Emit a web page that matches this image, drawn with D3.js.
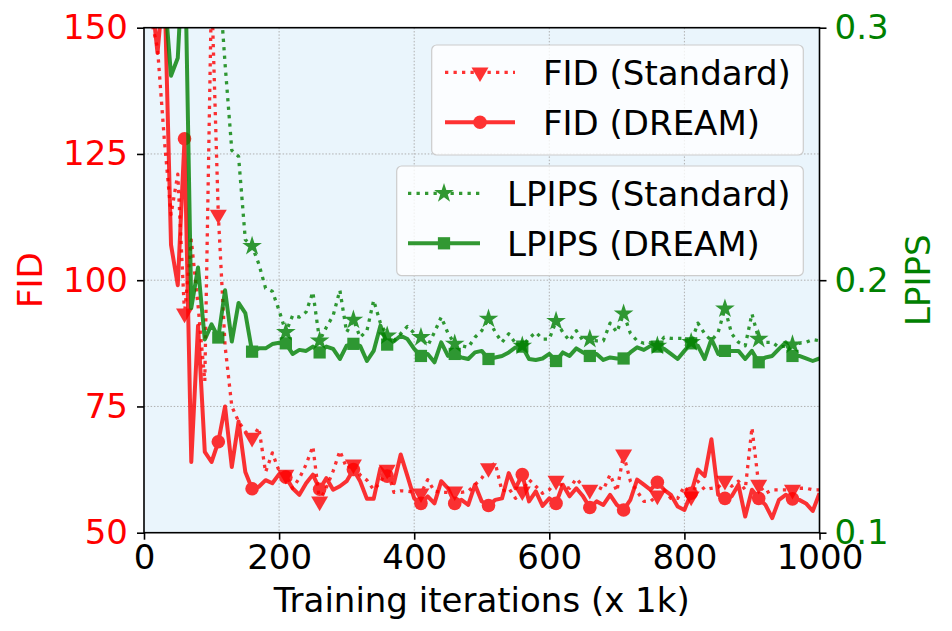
<!DOCTYPE html>
<html>
<head>
<meta charset="utf-8">
<script src="https://cdn.jsdelivr.net/npm/d3@7"></script>
<style>
	body { margin: 0; background: #fff; }
	svg { display: block; font-family: "DejaVu Sans", sans-serif; }
</style>
</head>
<body>
<div id="chart"></div>
<script>
// training iterations (x 1k), one point every 10k
const iterations = d3.range(10, 1001, 10);

// FID (DREAM) - solid red, circles
const fidDream = [
	158, 145, 160, 107, 99, 128, 64, 91, 66, 64,
	68, 75, 63, 72, 62, 58.7, 59.1, 60.4, 59.8, 61.6,
	61, 58.8, 57.5, 59.8, 61.5, 58.6, 60.8, 58.5, 59.2, 60.2,
	62.5, 60.2, 56.7, 56.7, 62.8, 61.2, 59.8, 65.5, 61.2, 56.8,
	55.8, 57.2, 55.8, 60.2, 58.8, 55.8, 56.5, 55.5, 59.5, 56.2,
	55.4, 56.5, 56.8, 61.8, 58.8, 61.5, 56.2, 58.2, 55.3, 56.8,
	55.8, 59.5, 57.2, 58.8, 57.2, 55, 56.2, 55.5, 57.5, 55.5,
	54.5, 56.5, 60.5, 59.5, 58.5, 60, 58.5, 57.5, 55.2, 54.5,
	57.8, 62.5, 61.2, 68.5, 57.5, 56.8, 57.2, 59.5, 53.2, 58.5,
	56.8, 55.5, 52.9, 56.5, 57.5, 56.7, 56.5, 55.8, 54.3, 57.8
];

// FID (Standard) - dotted red, down triangles
const fidStandard = [
	152, 146, 128, 113, 121, 93.4, 108, 95, 80, 158,
	113, 87, 75, 72, 70, 68.8, 70.8, 62, 65.8, 62.2,
	61.5, 58.8, 60.8, 63.5, 67.1, 56.2, 59, 62.2, 66.2, 62.8,
	63.5, 61.4, 60.4, 58.5, 60, 62.5, 58, 58.3, 58.2, 58,
	57.8, 60.5, 58.2, 58, 58, 58.2, 58, 58.2, 59.5, 60.8,
	62.8, 63.8, 58.2, 58.8, 56.8, 58.2, 60.5, 59.2, 57.8, 58.5,
	60.3, 59.2, 58.8, 60.7, 59.2, 58.5, 59.2, 58.5, 61.5, 58.2,
	65.5, 60.2, 58.2, 56.2, 56.2, 57.4, 58.5, 56.8, 56.8, 59.2,
	57.2, 60.2, 58.5, 58.8, 59, 60.3, 59.2, 60.2, 58.5, 70.8,
	59.5, 57.8, 58.5, 58.5, 58.5, 58.5, 58.8, 58.8, 58.5, 58.5
];

// LPIPS (DREAM) - solid green, squares
const lpipsDream = [
	0.40, 0.36, 0.315, 0.281, 0.288, 0.34, 0.189, 0.205, 0.1765, 0.1825,
	0.1773, 0.196, 0.1757, 0.191, 0.187, 0.1717, 0.173, 0.173, 0.1747, 0.1752,
	0.175, 0.1708, 0.1724, 0.172, 0.1737, 0.1714, 0.1737, 0.1728, 0.1688, 0.1741,
	0.1748, 0.174, 0.168, 0.172, 0.182, 0.1745, 0.1758, 0.178, 0.1767, 0.1728,
	0.170, 0.1708, 0.1675, 0.1754, 0.170, 0.1708, 0.1694, 0.1688, 0.1714, 0.172,
	0.1688, 0.1694, 0.170, 0.1714, 0.1734, 0.1737, 0.1688, 0.1684, 0.169, 0.1708,
	0.168, 0.1714, 0.170, 0.173, 0.1714, 0.170, 0.1708, 0.1684, 0.1694, 0.169,
	0.169, 0.1714, 0.1734, 0.1724, 0.174, 0.1737, 0.1728, 0.1708, 0.1688, 0.172,
	0.175, 0.174, 0.1688, 0.1767, 0.1708, 0.172, 0.172, 0.172, 0.1688, 0.172,
	0.1675, 0.1694, 0.170, 0.1728, 0.1754, 0.170, 0.170, 0.169, 0.168, 0.169
];

// LPIPS (Standard) - dotted green, stars
const lpipsStandard = [
	0.45, 0.42, 0.40, 0.38, 0.37, 0.36, 0.35, 0.345, 0.34, 0.33,
	0.324, 0.2857, 0.2514, 0.249, 0.216, 0.2135, 0.2064, 0.1968, 0.1956, 0.188,
	0.1794, 0.186, 0.1854, 0.1874, 0.1953, 0.176, 0.1814, 0.186, 0.196, 0.1794,
	0.1843, 0.1774, 0.18, 0.192, 0.183, 0.178, 0.176, 0.1788, 0.1817, 0.179,
	0.1774, 0.174, 0.1794, 0.1854, 0.179, 0.1748, 0.174, 0.1734, 0.1774, 0.180,
	0.1847, 0.1794, 0.1754, 0.1788, 0.175, 0.174, 0.177, 0.1794, 0.1767, 0.1767,
	0.1838, 0.1794, 0.176, 0.180, 0.176, 0.1767, 0.176, 0.176, 0.183, 0.1794,
	0.1867, 0.179, 0.176, 0.175, 0.1754, 0.174, 0.1774, 0.177, 0.177, 0.177,
	0.1754, 0.183, 0.1788, 0.176, 0.1794, 0.1887, 0.1788, 0.1754, 0.174, 0.1867,
	0.1767, 0.1754, 0.1754, 0.1734, 0.174, 0.1745, 0.175, 0.1754, 0.1765, 0.176
];

// tick labels
const xTicks = [0, 200, 400, 600, 800, 1000];
const fidTicks = [50, 75, 100, 125, 150];
const lpipsTicks = [0.1, 0.2, 0.3];

const RED = "#ff0000";
const GREEN = "#008000";

// dimensions
const W = 952, H = 631;
const margin = { top: 27.7, right: 132.5, bottom: 98.3, left: 144 };
const width = W - margin.left - margin.right;
const height = H - margin.top - margin.bottom;

const svg = d3
	.select("#chart")
	.append("svg")
	.attr("width", W)
	.attr("height", H);

const g = svg.append("g").attr("transform", `translate(${margin.left},${margin.top})`);

// scales
const x = d3.scaleLinear().domain([0, 1000]).range([0, width]);
const yFid = d3.scaleLinear().domain([50, 150]).range([height, 0]);
const yLp = d3.scaleLinear().domain([0.1, 0.3]).range([height, 0]);

// background
g.append("rect")
	.attr("width", width)
	.attr("height", height)
	.attr("fill", "#eaf5fc");

svg.append("clipPath")
	.attr("id", "plotClip")
	.append("rect")
	.attr("width", width)
	.attr("height", height);

// grid
g.append("g")
	.selectAll("line")
	.data(xTicks.slice(1, -1))
	.join("line")
	.attr("x1", d => x(d))
	.attr("x2", d => x(d))
	.attr("y1", 0)
	.attr("y2", height)
	.attr("stroke", "#b0b0b0")
	.attr("stroke-width", 1)
	.attr("stroke-dasharray", "1.5,1.8");

g.append("g")
	.selectAll("line")
	.data(fidTicks.slice(1, -1))
	.join("line")
	.attr("x1", 0)
	.attr("x2", width)
	.attr("y1", d => yFid(d))
	.attr("y2", d => yFid(d))
	.attr("stroke", "#b0b0b0")
	.attr("stroke-width", 1)
	.attr("stroke-dasharray", "1.5,1.8");

// series
const series = [
	{ values: fidStandard, y: yFid, color: RED, dotted: true, marker: "tri" },
	{ values: fidDream, y: yFid, color: RED, dotted: false, marker: "circle" },
	{ values: lpipsStandard, y: yLp, color: GREEN, dotted: true, marker: "star" },
	{ values: lpipsDream, y: yLp, color: GREEN, dotted: false, marker: "square" }
];

function markerPath(type) {
	if (type === "tri") return d3.symbol(d3.symbolTriangle, 125)();
	if (type === "circle") return d3.symbol(d3.symbolCircle, 145)();
	if (type === "star") return d3.symbol(d3.symbolStar, 120)();
	return d3.symbol(d3.symbolSquare, 150)();
}

function markerTransform(type, px, py) {
	// matplotlib 'v' points down
	if (type === "tri") return `translate(${px},${py}) rotate(180)`;
	return `translate(${px},${py})`;
}

const plot = g.append("g").attr("clip-path", "url(#plotClip)");

series.forEach(s => {
	const pts = iterations.map((it, i) => [it, s.values[i]]);
	const sg = plot.append("g").attr("opacity", 0.8);

	sg.append("path")
		.datum(pts)
		.attr("fill", "none")
		.attr("stroke", s.color)
		.attr("stroke-width", s.dotted ? 3.3 : 4)
		.attr("stroke-dasharray", s.dotted ? "3.3,5.2" : null)
		.attr("stroke-linejoin", "round")
		.attr("d", d3.line().x(d => x(d[0])).y(d => s.y(d[1])));

	// marker every 5th point
	sg.selectAll(".mk")
		.data(pts.filter((d, i) => i % 5 === 0))
		.join("path")
		.attr("class", "mk")
		.attr("d", markerPath(s.marker))
		.attr("transform", d => markerTransform(s.marker, x(d[0]), s.y(d[1])))
		.attr("fill", s.color);
});

// axes
const xAxis = g.append("g")
	.attr("transform", `translate(0,${height})`)
	.call(d3.axisBottom(x).tickValues(xTicks).tickFormat(d3.format("d")).tickSize(7).tickSizeOuter(0).tickPadding(5));

const leftAxis = g.append("g")
	.call(d3.axisLeft(yFid).tickValues(fidTicks).tickSize(7).tickSizeOuter(0).tickPadding(9));

const rightAxis = g.append("g")
	.attr("transform", `translate(${width},0)`)
	.call(d3.axisRight(yLp).tickValues(lpipsTicks).tickFormat(d3.format(".1f")).tickSize(7).tickSizeOuter(0).tickPadding(8));

[xAxis, leftAxis, rightAxis].forEach(a => {
	a.select(".domain").remove();
	a.selectAll("line").attr("stroke", "#000").attr("stroke-width", 1.6);
	a.selectAll("text").style("font-size", "34px").style("font-family", "DejaVu Sans");
});
xAxis.selectAll("text").attr("fill", "#000");
leftAxis.selectAll("text").attr("fill", RED);
rightAxis.selectAll("text").attr("fill", GREEN);

// spines
g.append("rect")
	.attr("width", width)
	.attr("height", height)
	.attr("fill", "none")
	.attr("stroke", "#000")
	.attr("stroke-width", 1.6);

// axis labels
g.append("text")
	.attr("x", width / 2)
	.attr("y", height + 79)
	.attr("text-anchor", "middle")
	.style("font-size", "34px")
	.attr("fill", "#000")
	.text("Training iterations (x 1k)");

g.append("text")
	.attr("transform", `translate(${-margin.left + 42},${height / 2}) rotate(-90)`)
	.attr("text-anchor", "middle")
	.style("font-size", "34px")
	.attr("fill", RED)
	.text("FID");

g.append("text")
	.attr("transform", `translate(${width + 110},${height / 2}) rotate(-90)`)
	.attr("text-anchor", "middle")
	.style("font-size", "34px")
	.attr("fill", GREEN)
	.text("LPIPS");

// legends
const legends = [
	{
		box: [431.7, 45, 371.6, 110], lineX: [445, 515], textX: 543,
		items: [
			{ label: "FID (Standard)", s: series[0], cy: 72.3 },
			{ label: "FID (DREAM)", s: series[1], cy: 122.3 }
		]
	},
	{
		box: [396.7, 166, 406.6, 109.7], lineX: [408, 480], textX: 507,
		items: [
			{ label: "LPIPS (Standard)", s: series[2], cy: 193.3 },
			{ label: "LPIPS (DREAM)", s: series[3], cy: 243.3 }
		]
	}
];

legends.forEach(L => {
	const lg = svg.append("g");
	lg.append("rect")
		.attr("x", L.box[0])
		.attr("y", L.box[1])
		.attr("width", L.box[2])
		.attr("height", L.box[3])
		.attr("rx", 5)
		.attr("fill", "#fff")
		.attr("fill-opacity", 0.8)
		.attr("stroke", "#cccccc")
		.attr("stroke-width", 1.2);

	L.items.forEach(it => {
		const ig = lg.append("g").attr("opacity", 0.8);
		ig.append("line")
			.attr("x1", L.lineX[0])
			.attr("x2", L.lineX[1])
			.attr("y1", it.cy)
			.attr("y2", it.cy)
			.attr("stroke", it.s.color)
			.attr("stroke-width", it.s.dotted ? 3.3 : 4)
			.attr("stroke-dasharray", it.s.dotted ? "3.3,5.2" : null);
		ig.append("path")
			.attr("d", markerPath(it.s.marker))
			.attr("transform", markerTransform(it.s.marker, (L.lineX[0] + L.lineX[1]) / 2, it.cy))
			.attr("fill", it.s.color);
		lg.append("text")
			.attr("x", L.textX)
			.attr("y", it.cy)
			.attr("dy", "0.36em")
			.style("font-size", "34px")
			.attr("fill", "#000")
			.text(it.label);
	});
});
</script>
</body>
</html>
